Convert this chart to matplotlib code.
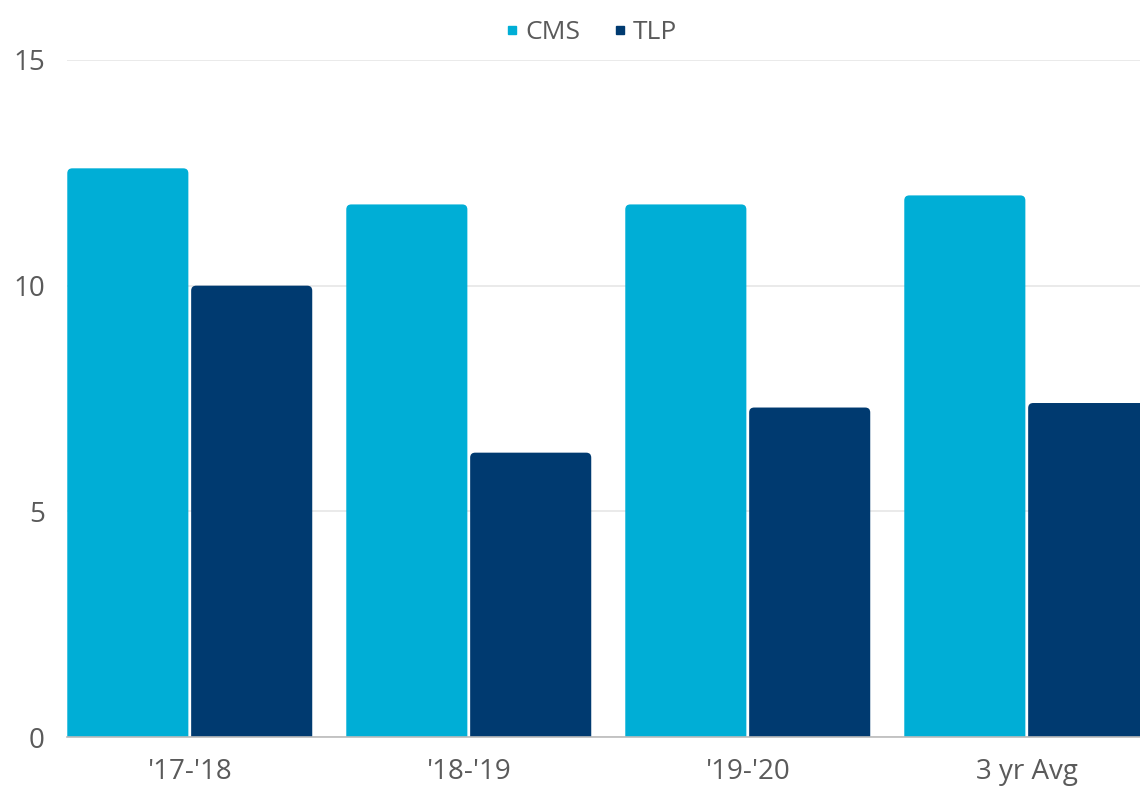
import matplotlib.pyplot as plt
import numpy as np
from matplotlib.lines import Line2D
from matplotlib.patches import FancyBboxPatch

plt.rcParams['font.family'] = ['Open Sans', 'DejaVu Sans']

# dados
categorias = ["'17-'18", "'18-'19", "'19-'20", "3 yr Avg"]
cms = [12.6, 11.8, 11.8, 12.0]
tlp = [10.0, 6.3, 7.3, 7.4]

cor_cms = '#00AED6'
cor_tlp = '#003A70'
cor_texto = '#5a5a5a'

fig = plt.figure(figsize=(11.4, 7.87), dpi=100)
ax = fig.add_axes([67 / 1140, 50 / 787, (1140 - 67) / 1140, 677 / 787])

x = np.arange(len(categorias))
largura = 0.434
desloc = 0.222

barras_cms = ax.bar(x - desloc, cms, largura, color=cor_cms, zorder=3)
barras_tlp = ax.bar(x + desloc, tlp, largura, color=cor_tlp, zorder=3)

# cantos arredondados no topo
aspecto = 279 / 45.13
for barras in (barras_cms, barras_tlp):
    for b in barras:
        b.set_visible(False)
        p = FancyBboxPatch((b.get_x(), -1), b.get_width(), b.get_height() + 1,
                           boxstyle='round,pad=0,rounding_size=0.018',
                           mutation_aspect=aspecto,
                           facecolor=b.get_facecolor(), edgecolor='none',
                           zorder=3, clip_on=True)
        ax.add_patch(p)

ax.set_xlim(-0.44, -0.44 + (1140 - 67) / 279)
ax.set_ylim(0, 15)
ax.set_yticks([0, 5, 10, 15])
ax.set_xticks(x)
ax.set_xticklabels(categorias)

ax.grid(axis='y', color='#e6e6e6', linewidth=1.2, zorder=0)
for lado in ['top', 'right', 'left']:
    ax.spines[lado].set_visible(False)
ax.spines['bottom'].set_color('#bbbbbb')
ax.spines['bottom'].set_linewidth(1.2)
ax.spines['bottom'].set_zorder(4)

ax.tick_params(axis='both', length=0, labelsize=20, colors=cor_texto)
ax.tick_params(axis='y', pad=16)
ax.tick_params(axis='x', pad=15)

handles = [Line2D([], [], marker='s', linestyle='none', markersize=6, color=cor_cms),
           Line2D([], [], marker='s', linestyle='none', markersize=6, color=cor_tlp)]
fig.legend(handles, ['CMS', 'TLP'], loc='upper center', bbox_to_anchor=(0.517, 1.005),
           ncol=2, frameon=False, fontsize=19, labelcolor=cor_texto,
           handletextpad=0.1, columnspacing=1.1, handlelength=0.8)

fig.savefig('out.png', dpi=100)
